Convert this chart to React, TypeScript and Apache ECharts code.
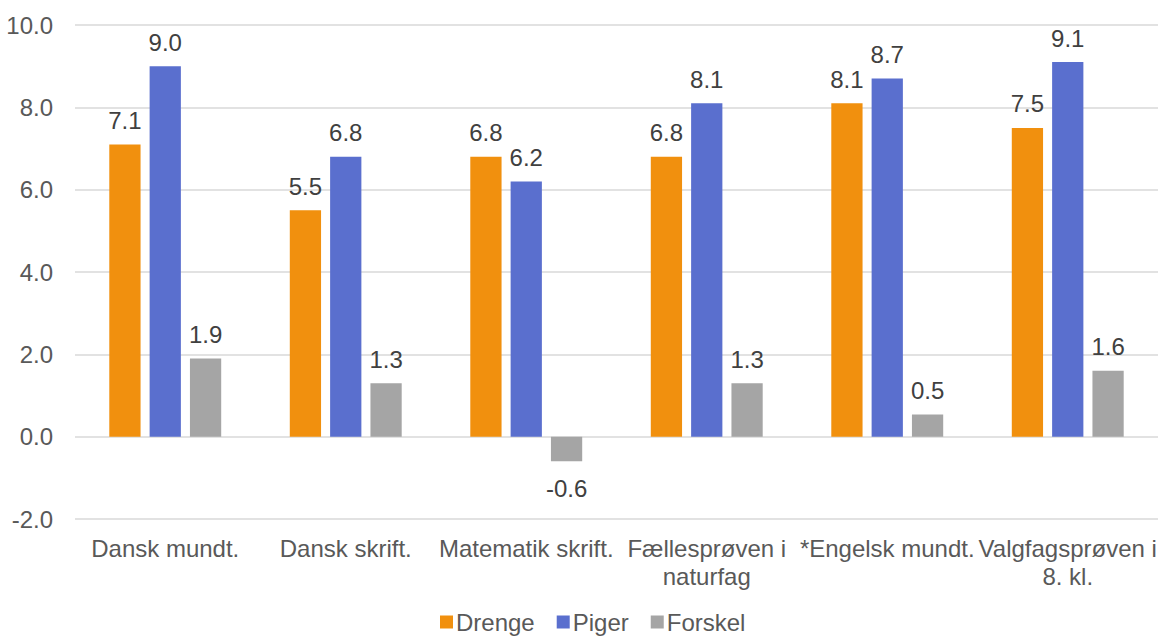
import React, { useEffect, useRef } from "react";
import * as echarts from "echarts";

const categories = [
  "Dansk mundt.",
  "Dansk skrift.",
  "Matematik skrift.",
  "Fællesprøven i\nnaturfag",
  "*Engelsk mundt.",
  "Valgfagsprøven i\n8. kl.",
];
const drenge = [7.1, 5.5, 6.8, 6.8, 8.1, 7.5];
const piger = [9.0, 6.8, 6.2, 8.1, 8.7, 9.1];
const forskel = [1.9, 1.3, -0.6, 1.3, 0.54, 1.6];
const seriesNames = ["Drenge", "Piger", "Forskel"];
const colors = ["#F1900E", "#5A6FCE", "#A5A5A5"];

const FONT = "'Liberation Sans', Arial, sans-serif";

function toData(vals: number[]) {
  return vals.map((v) => ({
    value: v,
    label: { position: v < 0 ? "bottom" : "top", distance: v < 0 ? 15 : 12 },
  }));
}

export default function App() {
  const ref = useRef<HTMLDivElement>(null);
  useEffect(() => {
    if (!ref.current) return;
    const chart = echarts.init(ref.current, undefined, { renderer: "svg" });
    const all = [drenge, piger, forskel];
    chart.setOption({
      animation: false,
      textStyle: { fontFamily: FONT },
      color: colors,
      grid: { left: 75, right: 4, top: 25, bottom: 118, containLabel: false },
      legend: {
        data: seriesNames,
        top: 610,
        left: 440,
        padding: 0,
        itemWidth: 13,
        itemHeight: 13,
        itemGap: 22,
        icon: "rect",
        textStyle: { fontSize: 24, color: "#595959", fontFamily: FONT, padding: [0, 0, 0, -2] },
      },
      xAxis: {
        type: "category",
        data: categories,
        axisLine: { show: false },
        axisTick: { show: false },
        axisLabel: {
          fontSize: 24,
          color: "#595959",
          margin: 15,
          lineHeight: 28,
          interval: 0,
          fontFamily: FONT,
        },
      },
      yAxis: {
        type: "value",
        min: -2,
        max: 10,
        interval: 2,
        axisLine: { show: false },
        axisTick: { show: false },
        splitLine: { lineStyle: { color: "#D9D9D9", width: 1.5 } },
        axisLabel: {
          fontSize: 24,
          color: "#595959",
          margin: 22,
          formatter: (v: number) => v.toFixed(1),
          fontFamily: FONT,
        },
      },
      series: all.map((vals, i) => ({
        name: seriesNames[i],
        type: "bar",
        data: toData(vals),
        barGap: "29%",
        barCategoryGap: "38%",
        itemStyle: { color: colors[i] },
        label: {
          show: true,
          fontSize: 24,
          color: "#404040",
          fontFamily: FONT,
          formatter: (p: any) => Number(p.value).toFixed(1),
        },
      })),
    });
    return () => chart.dispose();
  }, []);
  return <div ref={ref} style={{ width: 1162, height: 637, position: "absolute", left: 0, top: 0 }} />;
}
